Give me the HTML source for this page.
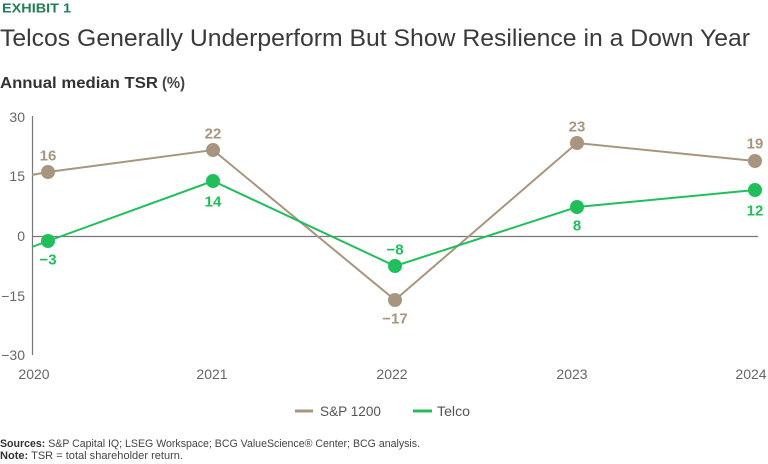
<!DOCTYPE html>
<html><head><meta charset="utf-8"><style>
html,body{margin:0;padding:0;background:#fff;}
svg{display:block;font-family:"Liberation Sans",sans-serif;}
</style></head><body>
<svg width="768" height="464" viewBox="0 0 768 464" xmlns="http://www.w3.org/2000/svg">
<text x="2" y="12.5" font-size="13" font-weight="bold" fill="#1f7f55" textLength="69" lengthAdjust="spacingAndGlyphs">EXHIBIT 1</text>
<text x="0" y="46" font-size="24" fill="#3a3a3a" textLength="750" lengthAdjust="spacingAndGlyphs">Telcos Generally Underperform But Show Resilience in a Down Year</text>
<text x="0" y="88" font-size="15.5" font-weight="bold" fill="#333"><tspan textLength="158" lengthAdjust="spacingAndGlyphs">Annual median TSR</tspan><tspan x="162" font-weight="bold" fill="#444" textLength="23" lengthAdjust="spacingAndGlyphs">(%)</tspan></text>

<!-- axes -->
<line x1="32.5" y1="116" x2="32.5" y2="355" stroke="#777" stroke-width="1.2"/>
<line x1="32" y1="236.5" x2="758" y2="236.5" stroke="#777" stroke-width="1.2"/>
<g font-size="14" fill="#666" text-anchor="end">
<text x="25" y="122">30</text>
<text x="25" y="181">15</text>
<text x="25" y="241">0</text>
<text x="25" y="301">−15</text>
<text x="25" y="360">−30</text>
</g>
<g font-size="14" fill="#666" text-anchor="middle">
<text x="34" y="379">2020</text>
<text x="212" y="379">2021</text>
<text x="392" y="379">2022</text>
<text x="572" y="379">2023</text>
<text x="751" y="379">2024</text>
</g>

<!-- S&P series -->
<polyline points="32,175 48,172 213,150 395,300 577,143 755,161" fill="none" stroke="#a8957f" stroke-width="2"/>
<g fill="#a8957f">
<circle cx="48" cy="172" r="7"/><circle cx="213" cy="150" r="7"/><circle cx="395" cy="300" r="7"/><circle cx="577" cy="143" r="7"/><circle cx="755" cy="161" r="7"/>
</g>
<!-- Telco series -->
<polyline points="32,247 48,241 213,181 395,266 577,207 755,190" fill="none" stroke="#21bf5b" stroke-width="2"/>
<g fill="#21bf5b">
<circle cx="48" cy="241" r="7"/><circle cx="213" cy="181" r="7"/><circle cx="395" cy="266" r="7"/><circle cx="577" cy="207" r="7"/><circle cx="755" cy="190" r="7"/>
</g>

<g font-size="15" font-weight="bold" fill="#a8957f" text-anchor="middle">
<text x="48" y="160.5">16</text>
<text x="213" y="138.5">22</text>
<text x="395" y="323.5">−17</text>
<text x="577" y="131.5">23</text>
<text x="755" y="148.5">19</text>
</g>
<g font-size="15" font-weight="bold" fill="#21bf5b" text-anchor="middle">
<text x="48" y="264.5">−3</text>
<text x="213" y="206.5">14</text>
<text x="395" y="254.5">−8</text>
<text x="577" y="230.5">8</text>
<text x="755" y="215.5">12</text>
</g>

<!-- legend -->
<line x1="295" y1="411" x2="313" y2="411" stroke="#a8957f" stroke-width="3"/>
<text x="320" y="416" font-size="14" fill="#555" textLength="61" lengthAdjust="spacingAndGlyphs">S&amp;P 1200</text>
<line x1="413" y1="411" x2="432" y2="411" stroke="#21bf5b" stroke-width="3"/>
<text x="437" y="416" font-size="14" fill="#555" textLength="33" lengthAdjust="spacingAndGlyphs">Telco</text>

<!-- footnotes -->
<text x="0" y="447" font-size="11" fill="#444" textLength="420" lengthAdjust="spacingAndGlyphs"><tspan font-weight="bold" fill="#333">Sources:</tspan> S&amp;P Capital IQ; LSEG Workspace; BCG ValueScience® Center; BCG analysis.</text>
<text x="0" y="459" font-size="11" fill="#444" textLength="183" lengthAdjust="spacingAndGlyphs"><tspan font-weight="bold" fill="#333">Note:</tspan> TSR = total shareholder return.</text>
</svg>
</body></html>
